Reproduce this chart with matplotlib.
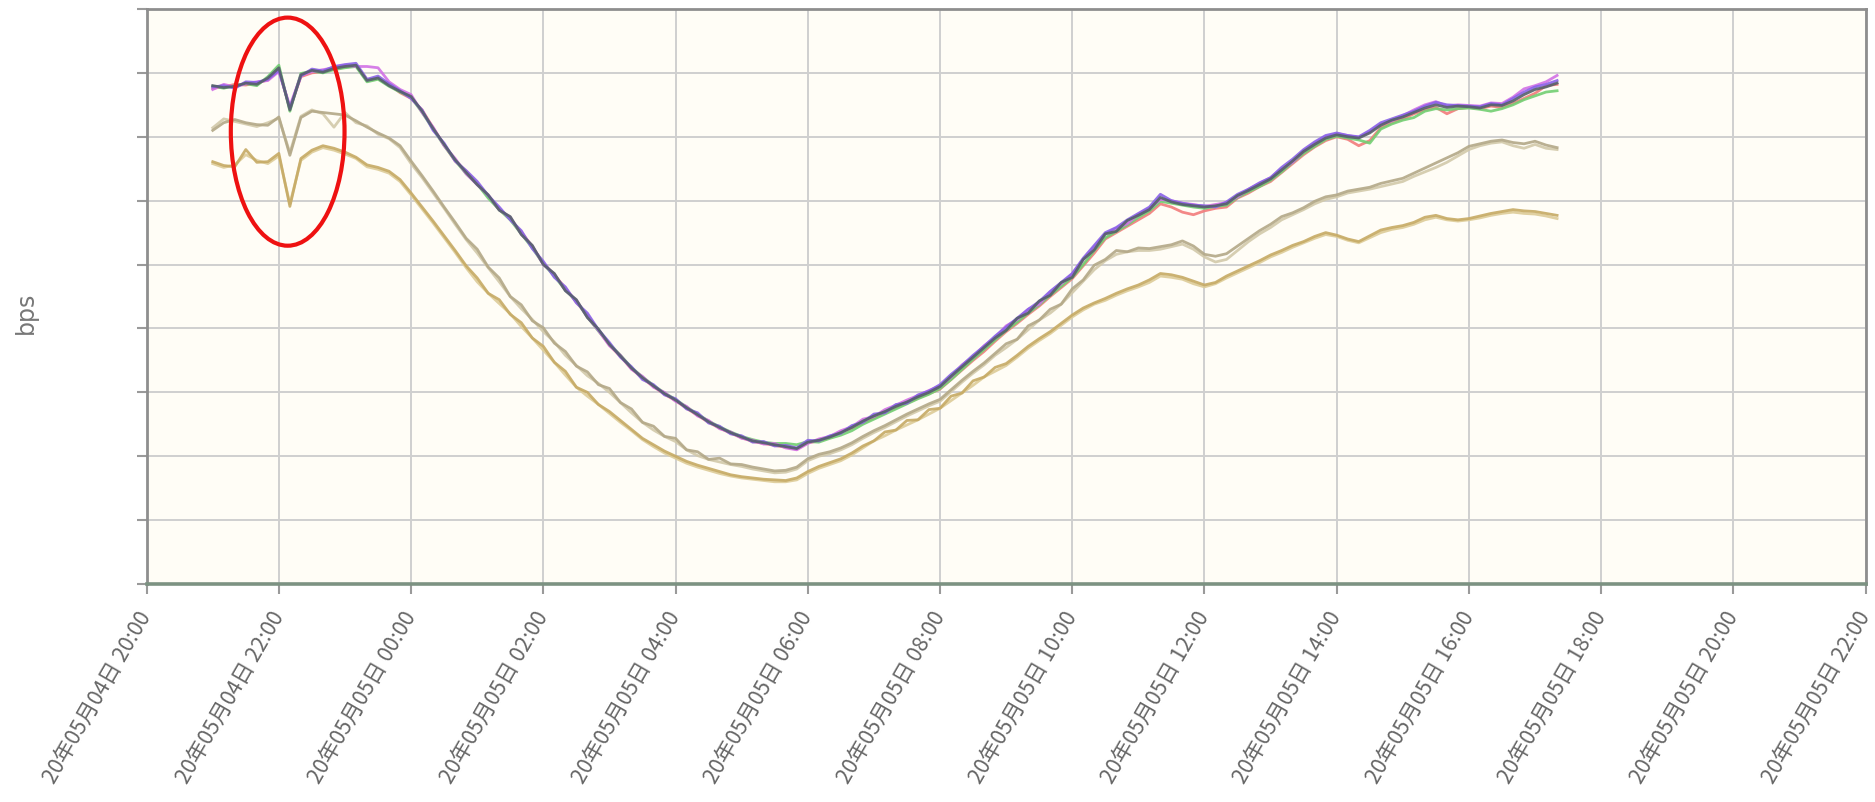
import matplotlib
matplotlib.use("Agg")
import matplotlib.pyplot as plt
import matplotlib.dates as mdates
from matplotlib.patches import Ellipse
import pandas as pd

plt.rcParams['font.family'] = ['Noto Sans CJK SC', 'DejaVu Sans']

# time axis: samples every 10 minutes from 21:00 on the 4th
times = pd.date_range('2020-05-04 21:00', periods=123, freq='10min')

# upper group (five links, almost on top of each other)
gray_line = [
    7.80, 7.77, 7.79, 7.84, 7.82, 7.92, 8.08, 7.42, 7.97, 8.04, 8.01, 8.07,
    8.10, 8.12, 7.88, 7.92, 7.80, 7.71, 7.63, 7.40, 7.13, 6.88, 6.64, 6.44,
    6.25, 6.09, 5.85, 5.75, 5.47, 5.30, 5.00, 4.86, 4.59, 4.45, 4.17, 3.99,
    3.75, 3.57, 3.38, 3.23, 3.10, 2.98, 2.88, 2.76, 2.65, 2.54, 2.45, 2.37,
    2.30, 2.24, 2.21, 2.18, 2.15, 2.12, 2.22, 2.25, 2.30, 2.37, 2.45, 2.55,
    2.63, 2.70, 2.78, 2.85, 2.93, 3.00, 3.09, 3.25, 3.40, 3.55, 3.70, 3.85,
    3.97, 4.16, 4.24, 4.43, 4.52, 4.72, 4.80, 5.08, 5.23, 5.48, 5.52, 5.69,
    5.77, 5.86, 6.05, 5.98, 5.94, 5.92, 5.90, 5.92, 5.95, 6.08, 6.16, 6.25,
    6.34, 6.48, 6.62, 6.77, 6.88, 6.98, 7.03, 7.00, 6.98, 7.06, 7.18, 7.26,
    7.31, 7.38, 7.45, 7.50, 7.46, 7.48, 7.47, 7.45, 7.50, 7.49, 7.56, 7.66,
    7.74, 7.78, 7.84]
purple_line = [
    7.78, 7.80, 7.76, 7.86, 7.85, 7.90, 8.04, 7.45, 7.95, 8.06, 8.03, 8.10,
    8.13, 8.15, 7.90, 7.95, 7.83, 7.72, 7.60, 7.42, 7.10, 6.90, 6.62, 6.47,
    6.30, 6.08, 5.90, 5.70, 5.53, 5.25, 5.05, 4.80, 4.65, 4.40, 4.24, 3.98,
    3.78, 3.55, 3.40, 3.20, 3.12, 2.96, 2.90, 2.74, 2.68, 2.52, 2.47, 2.35,
    2.32, 2.22, 2.23, 2.16, 2.17, 2.13, 2.25, 2.24, 2.32, 2.36, 2.48, 2.53,
    2.66, 2.68, 2.81, 2.83, 2.96, 3.02, 3.12, 3.28, 3.42, 3.58, 3.72, 3.88,
    4.02, 4.16, 4.30, 4.42, 4.58, 4.72, 4.86, 5.10, 5.30, 5.50, 5.58, 5.70,
    5.80, 5.90, 6.10, 6.00, 5.96, 5.93, 5.92, 5.90, 5.98, 6.10, 6.18, 6.28,
    6.36, 6.52, 6.65, 6.80, 6.92, 7.02, 7.06, 7.02, 7.00, 7.10, 7.22, 7.28,
    7.34, 7.40, 7.48, 7.54, 7.50, 7.49, 7.48, 7.47, 7.52, 7.50, 7.60, 7.70,
    7.78, 7.82, 7.88]
magenta_line = [
    7.74, 7.82, 7.78, 7.83, 7.86, 7.88, 8.02, 7.48, 7.96, 8.02, 8.05, 8.08,
    8.12, 8.10, 8.10, 8.08, 7.86, 7.74, 7.66, 7.38, 7.15, 6.86, 6.66, 6.42,
    6.25, 6.09, 5.86, 5.74, 5.48, 5.29, 5.00, 4.85, 4.60, 4.44, 4.18, 3.97,
    3.73, 3.58, 3.36, 3.25, 3.08, 3.00, 2.86, 2.78, 2.63, 2.56, 2.43, 2.38,
    2.28, 2.25, 2.19, 2.20, 2.13, 2.10, 2.20, 2.27, 2.31, 2.40, 2.46, 2.58,
    2.62, 2.73, 2.80, 2.88, 2.95, 3.03, 3.10, 3.24, 3.43, 3.56, 3.73, 3.86,
    4.04, 4.14, 4.30, 4.38, 4.57, 4.70, 4.85, 5.08, 5.28, 5.48, 5.57, 5.64,
    5.79, 5.88, 6.02, 6.00, 5.96, 5.94, 5.91, 5.94, 5.97, 6.06, 6.18, 6.27,
    6.36, 6.50, 6.60, 6.78, 6.90, 7.00, 7.05, 7.02, 6.99, 7.08, 7.20, 7.25,
    7.33, 7.42, 7.50, 7.55, 7.48, 7.50, 7.49, 7.48, 7.53, 7.52, 7.62, 7.75,
    7.80, 7.86, 7.96]
green_line = [
    7.79, 7.76, 7.80, 7.83, 7.80, 7.94, 8.12, 7.40, 7.99, 8.03, 8.00, 8.05,
    8.08, 8.10, 7.86, 7.90, 7.79, 7.70, 7.62, 7.38, 7.12, 6.86, 6.63, 6.42,
    6.26, 6.04, 5.86, 5.70, 5.48, 5.26, 5.01, 4.82, 4.60, 4.43, 4.18, 3.96,
    3.76, 3.58, 3.39, 3.24, 3.11, 2.99, 2.89, 2.77, 2.66, 2.55, 2.46, 2.38,
    2.31, 2.26, 2.22, 2.20, 2.20, 2.18, 2.23, 2.22, 2.28, 2.33, 2.40, 2.50,
    2.58, 2.66, 2.74, 2.82, 2.90, 2.97, 3.06, 3.20, 3.36, 3.52, 3.67, 3.82,
    3.97, 4.10, 4.24, 4.37, 4.52, 4.66, 4.80, 5.00, 5.22, 5.42, 5.52, 5.62,
    5.74, 5.84, 5.99, 5.96, 5.93, 5.90, 5.88, 5.91, 5.93, 6.05, 6.14, 6.22,
    6.32, 6.45, 6.60, 6.74, 6.85, 6.96, 7.01, 6.98, 6.95, 6.90, 7.12, 7.20,
    7.26, 7.30, 7.40, 7.44, 7.42, 7.44, 7.45, 7.43, 7.40, 7.44, 7.50, 7.58,
    7.64, 7.70, 7.72]
red_line = [
    7.76, 7.78, 7.82, 7.81, 7.84, 7.89, 8.05, 7.44, 7.94, 8.00, 8.02, 8.06,
    8.09, 8.11, 7.89, 7.91, 7.82, 7.69, 7.60, 7.42, 7.14, 6.87, 6.62, 6.46,
    6.27, 6.07, 5.87, 5.71, 5.51, 5.28, 5.02, 4.84, 4.63, 4.41, 4.21, 3.97,
    3.74, 3.56, 3.37, 3.22, 3.09, 2.97, 2.87, 2.75, 2.64, 2.53, 2.44, 2.36,
    2.29, 2.23, 2.20, 2.17, 2.14, 2.11, 2.21, 2.24, 2.29, 2.38, 2.44, 2.52,
    2.60, 2.68, 2.76, 2.83, 2.91, 2.98, 3.05, 3.20, 3.35, 3.50, 3.64, 3.80,
    3.95, 4.08, 4.22, 4.35, 4.50, 4.64, 4.78, 4.98, 5.18, 5.40, 5.50, 5.60,
    5.70, 5.80, 5.95, 5.90, 5.82, 5.78, 5.84, 5.88, 5.90, 6.04, 6.12, 6.22,
    6.30, 6.44, 6.58, 6.72, 6.84, 6.94, 7.00, 6.96, 6.86, 6.94, 7.14, 7.22,
    7.28, 7.36, 7.42, 7.46, 7.36, 7.44, 7.46, 7.44, 7.48, 7.46, 7.52, 7.60,
    7.68, 7.80, 7.82]

# middle group (two khaki links)
khaki_a = [
    7.10, 7.22, 7.27, 7.22, 7.19, 7.18, 7.31, 6.71, 7.30, 7.40, 7.38, 7.36,
    7.34, 7.25, 7.15, 7.06, 6.98, 6.86, 6.62, 6.39, 6.15, 5.90, 5.66, 5.41,
    5.24, 4.96, 4.79, 4.50, 4.37, 4.12, 4.01, 3.77, 3.64, 3.41, 3.32, 3.12,
    3.06, 2.84, 2.74, 2.53, 2.47, 2.31, 2.28, 2.10, 2.07, 1.95, 1.97, 1.88,
    1.87, 1.83, 1.80, 1.77, 1.78, 1.83, 1.96, 2.03, 2.07, 2.13, 2.21, 2.31,
    2.40, 2.48, 2.57, 2.66, 2.74, 2.82, 2.89, 3.04, 3.19, 3.33, 3.46, 3.61,
    3.76, 3.83, 4.04, 4.13, 4.30, 4.38, 4.62, 4.76, 4.99, 5.08, 5.22, 5.20,
    5.26, 5.25, 5.28, 5.31, 5.37, 5.29, 5.16, 5.13, 5.17, 5.29, 5.41, 5.53,
    5.63, 5.75, 5.81, 5.89, 5.99, 6.06, 6.09, 6.15, 6.18, 6.21, 6.27, 6.31,
    6.35, 6.43, 6.51, 6.59, 6.67, 6.75, 6.85, 6.89, 6.93, 6.95, 6.91, 6.89,
    6.93, 6.87, 6.83]
khaki_b = [
    7.14, 7.28, 7.24, 7.20, 7.16, 7.22, 7.29, 6.75, 7.32, 7.42, 7.36, 7.15,
    7.38, 7.22, 7.17, 7.04, 6.97, 6.83, 6.58, 6.36, 6.12, 5.88, 5.63, 5.39,
    5.18, 4.95, 4.73, 4.50, 4.31, 4.14, 3.95, 3.79, 3.58, 3.42, 3.26, 3.14,
    3.00, 2.84, 2.68, 2.53, 2.41, 2.31, 2.23, 2.10, 2.01, 1.95, 1.91, 1.87,
    1.84, 1.80, 1.77, 1.74, 1.75, 1.80, 1.93, 2.00, 2.04, 2.10, 2.18, 2.28,
    2.37, 2.45, 2.54, 2.63, 2.71, 2.79, 2.86, 3.01, 3.16, 3.30, 3.43, 3.58,
    3.70, 3.83, 3.98, 4.13, 4.24, 4.38, 4.56, 4.74, 4.92, 5.06, 5.16, 5.20,
    5.22, 5.22, 5.24, 5.28, 5.32, 5.24, 5.12, 5.04, 5.08, 5.22, 5.36, 5.48,
    5.58, 5.70, 5.78, 5.86, 5.95, 6.02, 6.06, 6.12, 6.15, 6.18, 6.22, 6.26,
    6.30, 6.38, 6.45, 6.52, 6.60, 6.70, 6.80, 6.86, 6.90, 6.92, 6.86, 6.82,
    6.88, 6.82, 6.80]

# lower group (two golden links)
gold_a = [
    6.61, 6.55, 6.53, 6.80, 6.60, 6.61, 6.74, 5.91, 6.66, 6.79, 6.86, 6.82,
    6.76, 6.68, 6.56, 6.52, 6.46, 6.33, 6.12, 5.90, 5.68, 5.45, 5.22, 4.98,
    4.79, 4.55, 4.45, 4.22, 4.09, 3.85, 3.72, 3.47, 3.33, 3.08, 3.00, 2.81,
    2.70, 2.56, 2.42, 2.28, 2.18, 2.08, 2.00, 1.92, 1.86, 1.81, 1.76, 1.71,
    1.68, 1.66, 1.64, 1.63, 1.62, 1.66, 1.76, 1.84, 1.90, 1.96, 2.05, 2.16,
    2.24, 2.38, 2.41, 2.56, 2.57, 2.73, 2.75, 2.94, 2.99, 3.18, 3.24, 3.39,
    3.45, 3.58, 3.72, 3.84, 3.95, 4.08, 4.21, 4.32, 4.40, 4.47, 4.55, 4.62,
    4.68, 4.76, 4.86, 4.84, 4.80, 4.74, 4.68, 4.72, 4.82, 4.90, 4.98, 5.06,
    5.15, 5.22, 5.30, 5.36, 5.44, 5.50, 5.46, 5.40, 5.36, 5.45, 5.54, 5.58,
    5.61, 5.66, 5.74, 5.77, 5.72, 5.70, 5.72, 5.76, 5.80, 5.83, 5.86, 5.84,
    5.83, 5.80, 5.77]
gold_b = [
    6.58, 6.52, 6.56, 6.72, 6.63, 6.58, 6.70, 5.95, 6.63, 6.76, 6.83, 6.79,
    6.73, 6.66, 6.53, 6.49, 6.43, 6.30, 6.09, 5.87, 5.65, 5.42, 5.19, 4.95,
    4.73, 4.55, 4.39, 4.23, 4.03, 3.85, 3.66, 3.47, 3.27, 3.08, 2.94, 2.81,
    2.67, 2.53, 2.40, 2.26, 2.15, 2.05, 1.97, 1.89, 1.83, 1.78, 1.73, 1.69,
    1.66, 1.64, 1.62, 1.60, 1.60, 1.63, 1.73, 1.81, 1.87, 1.93, 2.02, 2.13,
    2.24, 2.32, 2.41, 2.49, 2.57, 2.66, 2.75, 2.87, 2.99, 3.11, 3.24, 3.33,
    3.42, 3.55, 3.69, 3.81, 3.92, 4.05, 4.18, 4.29, 4.38, 4.44, 4.52, 4.59,
    4.65, 4.72, 4.82, 4.80, 4.77, 4.70, 4.65, 4.70, 4.79, 4.87, 4.95, 5.03,
    5.12, 5.19, 5.27, 5.34, 5.41, 5.47, 5.44, 5.38, 5.34, 5.42, 5.50, 5.55,
    5.58, 5.63, 5.70, 5.74, 5.70, 5.68, 5.70, 5.73, 5.77, 5.80, 5.82, 5.80,
    5.79, 5.76, 5.72]

x_start = pd.Timestamp('2020-05-04 20:00')
x_end = pd.Timestamp('2020-05-05 22:00')

fig = plt.figure(figsize=(18.75, 8.02), dpi=100)
ax = fig.add_axes([0.0782, 0.2718, 0.9168, 0.7170])
ax.set_facecolor('#fffdf6')

# lower ones first so the upper group sits on top
series = [
    (gold_b, '#ddcc98'),
    (gold_a, '#c6aa64'),
    (khaki_b, '#d2c9aa'),
    (khaki_a, '#b3a887'),
    (red_line, '#f27b7b'),
    (green_line, '#72cf72'),
    (magenta_line, '#d271e6'),
    (purple_line, '#8a63e8'),
    (gray_line, '#55606a'),
]
for vals, col in series:
    ax.plot(times, vals, color=col, lw=2.0, alpha=0.9, solid_joinstyle='round')

ax.set_xlim(x_start, x_end)
ax.set_ylim(0, 9)
ax.set_yticks(range(0, 10))
ax.set_yticklabels([])

ax.xaxis.set_major_locator(mdates.HourLocator(byhour=range(0, 24, 2)))
ax.xaxis.set_major_formatter(mdates.DateFormatter('%y年%m月%d日 %H:%M'))
for lbl in ax.get_xticklabels():
    lbl.set_rotation(60)
    lbl.set_ha('right')
    lbl.set_va('center')
    lbl.set_rotation_mode('anchor')

ax.tick_params(axis='x', colors='#9a9a9a', labelcolor='#666666',
               labelsize=15.5, length=7, width=1.5, pad=14)
ax.tick_params(axis='y', colors='#9a9a9a', length=7, width=1.5)

ax.grid(True, color='#cfcfcf', lw=1.4)
ax.set_axisbelow(True)

for side in ['left', 'top', 'right']:
    ax.spines[side].set_color('#8e8e8e')
    ax.spines[side].set_linewidth(2)
ax.spines['bottom'].set_color('#7c9282')
ax.spines['bottom'].set_linewidth(2.6)

# red ring around the drop near 22:10
ring = Ellipse((mdates.date2num(pd.Timestamp('2020-05-04 22:08')), 7.08),
               width=1.72 / 24, height=3.57, fill=False,
               edgecolor='#ee1111', lw=3, zorder=5)
ax.add_patch(ring)

fig.text(0.0139, 0.61, 'bps', rotation=90, ha='center', va='center',
         fontsize=17, color='#777777', family=['DejaVu Sans'])

fig.savefig('out.png', dpi=100, facecolor='white')
